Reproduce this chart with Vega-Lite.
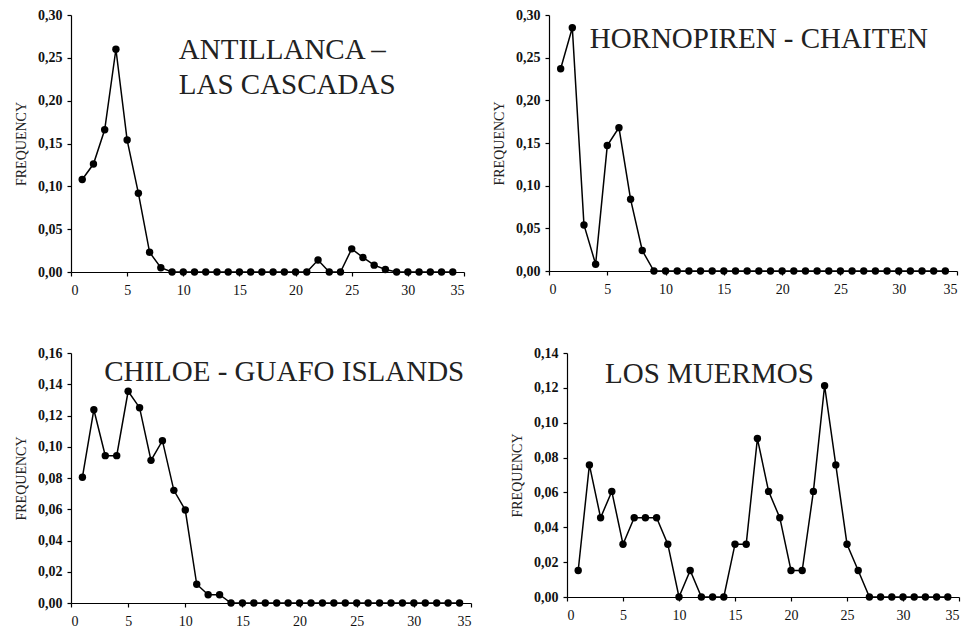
{
  "$schema": "https://vega.github.io/schema/vega-lite/v6.json",
  "padding": {"left": 14, "top": 8, "right": 2, "bottom": 4},
  "background": "white",
  "config": {
    "font": "Liberation Serif",
    "view": {"stroke": null},
    "text": {"font": "Liberation Serif"},
    "axis": {
      "grid": false,
      "domainColor": "black",
      "tickColor": "black",
      "labelColor": "#111",
      "titleColor": "#222",
      "labelFont": "Liberation Serif",
      "titleFont": "Liberation Serif",
      "labelFontSize": 14,
      "titleFontSize": 14,
      "titleFontWeight": "normal",
      "tickSize": 4,
      "domainWidth": 1.2,
      "tickWidth": 1.2,
      "labelOverlap": false
    },
    "axisX": {"labelPadding": 7, "labelFontSize": 14},
    "axisY": {"labelPadding": 5, "labelFontWeight": "bold", "titlePadding": 9}
  },
  "datasets": {
    "antillanca": [
      {"x": 1, "f": 0.108}, {"x": 2, "f": 0.126}, {"x": 3, "f": 0.166}, {"x": 4, "f": 0.26}, {"x": 5, "f": 0.154},
      {"x": 6, "f": 0.092}, {"x": 7, "f": 0.023}, {"x": 8, "f": 0.005}, {"x": 9, "f": 0}, {"x": 10, "f": 0},
      {"x": 11, "f": 0}, {"x": 12, "f": 0}, {"x": 13, "f": 0}, {"x": 14, "f": 0}, {"x": 15, "f": 0},
      {"x": 16, "f": 0}, {"x": 17, "f": 0}, {"x": 18, "f": 0}, {"x": 19, "f": 0}, {"x": 20, "f": 0},
      {"x": 21, "f": 0}, {"x": 22, "f": 0.014}, {"x": 23, "f": 0}, {"x": 24, "f": 0}, {"x": 25, "f": 0.027},
      {"x": 26, "f": 0.017}, {"x": 27, "f": 0.008}, {"x": 28, "f": 0.003}, {"x": 29, "f": 0}, {"x": 30, "f": 0},
      {"x": 31, "f": 0}, {"x": 32, "f": 0}, {"x": 33, "f": 0}, {"x": 34, "f": 0}
    ],
    "hornopiren": [
      {"x": 1, "f": 0.237}, {"x": 2, "f": 0.285}, {"x": 3, "f": 0.054}, {"x": 4, "f": 0.008}, {"x": 5, "f": 0.147},
      {"x": 6, "f": 0.168}, {"x": 7, "f": 0.084}, {"x": 8, "f": 0.024}, {"x": 9, "f": 0}, {"x": 10, "f": 0},
      {"x": 11, "f": 0}, {"x": 12, "f": 0}, {"x": 13, "f": 0}, {"x": 14, "f": 0}, {"x": 15, "f": 0},
      {"x": 16, "f": 0}, {"x": 17, "f": 0}, {"x": 18, "f": 0}, {"x": 19, "f": 0}, {"x": 20, "f": 0},
      {"x": 21, "f": 0}, {"x": 22, "f": 0}, {"x": 23, "f": 0}, {"x": 24, "f": 0}, {"x": 25, "f": 0},
      {"x": 26, "f": 0}, {"x": 27, "f": 0}, {"x": 28, "f": 0}, {"x": 29, "f": 0}, {"x": 30, "f": 0},
      {"x": 31, "f": 0}, {"x": 32, "f": 0}, {"x": 33, "f": 0}, {"x": 34, "f": 0}
    ],
    "chiloe": [
      {"x": 1, "f": 0.0805}, {"x": 2, "f": 0.1237}, {"x": 3, "f": 0.0943}, {"x": 4, "f": 0.0943}, {"x": 5, "f": 0.1355},
      {"x": 6, "f": 0.125}, {"x": 7, "f": 0.0913}, {"x": 8, "f": 0.1039}, {"x": 9, "f": 0.0721}, {"x": 10, "f": 0.0595},
      {"x": 11, "f": 0.012}, {"x": 12, "f": 0.0053}, {"x": 13, "f": 0.0053}, {"x": 14, "f": 0}, {"x": 15, "f": 0},
      {"x": 16, "f": 0}, {"x": 17, "f": 0}, {"x": 18, "f": 0}, {"x": 19, "f": 0}, {"x": 20, "f": 0},
      {"x": 21, "f": 0}, {"x": 22, "f": 0}, {"x": 23, "f": 0}, {"x": 24, "f": 0}, {"x": 25, "f": 0},
      {"x": 26, "f": 0}, {"x": 27, "f": 0}, {"x": 28, "f": 0}, {"x": 29, "f": 0}, {"x": 30, "f": 0},
      {"x": 31, "f": 0}, {"x": 32, "f": 0}, {"x": 33, "f": 0}, {"x": 34, "f": 0}
    ],
    "muermos": [
      {"x": 1, "f": 0.0152}, {"x": 2, "f": 0.0758}, {"x": 3, "f": 0.0455}, {"x": 4, "f": 0.0606}, {"x": 5, "f": 0.0303},
      {"x": 6, "f": 0.0455}, {"x": 7, "f": 0.0455}, {"x": 8, "f": 0.0455}, {"x": 9, "f": 0.0303}, {"x": 10, "f": 0},
      {"x": 11, "f": 0.0152}, {"x": 12, "f": 0}, {"x": 13, "f": 0}, {"x": 14, "f": 0}, {"x": 15, "f": 0.0303},
      {"x": 16, "f": 0.0303}, {"x": 17, "f": 0.0909}, {"x": 18, "f": 0.0606}, {"x": 19, "f": 0.0455}, {"x": 20, "f": 0.0152},
      {"x": 21, "f": 0.0152}, {"x": 22, "f": 0.0606}, {"x": 23, "f": 0.1212}, {"x": 24, "f": 0.0758}, {"x": 25, "f": 0.0303},
      {"x": 26, "f": 0.0152}, {"x": 27, "f": 0}, {"x": 28, "f": 0}, {"x": 29, "f": 0}, {"x": 30, "f": 0},
      {"x": 31, "f": 0}, {"x": 32, "f": 0}, {"x": 33, "f": 0}, {"x": 34, "f": 0}
    ]
  },
  "vconcat": [
    {
      "hconcat": [
        {
          "width": 393, "height": 257,
          "layer": [
            {
              "data": {"name": "antillanca"},
              "mark": {"type": "line", "color": "black", "strokeWidth": 1.5},
              "encoding": {
                "x": {"field": "x", "type": "quantitative", "scale": {"domain": [0, 35], "nice": false}, "axis": {"values": [0, 5, 10, 15, 20, 25, 30, 35], "title": null}},
                "y": {"field": "f", "type": "quantitative", "scale": {"domain": [0, 0.3], "nice": false}, "axis": {"values": [0, 0.05, 0.1, 0.15, 0.2, 0.25, 0.3], "title": "FREQUENCY", "labelExpr": "replace(format(datum.value, '.2f'), '.', ',')"}}
              }
            },
            {
              "data": {"name": "antillanca"},
              "mark": {"type": "point", "filled": true, "color": "black", "opacity": 1, "size": 55},
              "encoding": {
                "x": {"field": "x", "type": "quantitative", "scale": {"domain": [0, 35], "nice": false}, "axis": {"values": [0, 5, 10, 15, 20, 25, 30, 35], "title": null}},
                "y": {"field": "f", "type": "quantitative", "scale": {"domain": [0, 0.3], "nice": false}, "axis": {"values": [0, 0.05, 0.1, 0.15, 0.2, 0.25, 0.3], "title": "FREQUENCY", "labelExpr": "replace(format(datum.value, '.2f'), '.', ',')"}}
              }
            },
            {
              "data": {"values": [{"label": "ANTILLANCA –"}]},
              "mark": {"type": "text", "align": "left", "baseline": "alphabetic", "fontSize": 29, "lineHeight": 35, "color": "#222", "text": ["ANTILLANCA –", "LAS CASCADAS"]},
              "encoding": {
                "x": {"datum": 9.6, "type": "quantitative", "scale": {"domain": [0, 35], "nice": false}, "axis": {"values": [0, 5, 10, 15, 20, 25, 30, 35], "title": null}},
                "y": {"datum": 0.249, "type": "quantitative", "scale": {"domain": [0, 0.3], "nice": false}, "axis": {"values": [0, 0.05, 0.1, 0.15, 0.2, 0.25, 0.3], "title": "FREQUENCY", "labelExpr": "replace(format(datum.value, '.2f'), '.', ',')"}}
              }
            }
          ]
        },
        {
          "width": 408, "height": 256,
          "layer": [
            {
              "data": {"name": "hornopiren"},
              "mark": {"type": "line", "color": "black", "strokeWidth": 1.5},
              "encoding": {
                "x": {"field": "x", "type": "quantitative", "scale": {"domain": [0, 35], "nice": false}, "axis": {"values": [0, 5, 10, 15, 20, 25, 30, 35], "title": null}},
                "y": {"field": "f", "type": "quantitative", "scale": {"domain": [0, 0.3], "nice": false}, "axis": {"values": [0, 0.05, 0.1, 0.15, 0.2, 0.25, 0.3], "title": "FREQUENCY", "labelExpr": "replace(format(datum.value, '.2f'), '.', ',')"}}
              }
            },
            {
              "data": {"name": "hornopiren"},
              "mark": {"type": "point", "filled": true, "color": "black", "opacity": 1, "size": 55},
              "encoding": {
                "x": {"field": "x", "type": "quantitative", "scale": {"domain": [0, 35], "nice": false}, "axis": {"values": [0, 5, 10, 15, 20, 25, 30, 35], "title": null}},
                "y": {"field": "f", "type": "quantitative", "scale": {"domain": [0, 0.3], "nice": false}, "axis": {"values": [0, 0.05, 0.1, 0.15, 0.2, 0.25, 0.3], "title": "FREQUENCY", "labelExpr": "replace(format(datum.value, '.2f'), '.', ',')"}}
              }
            },
            {
              "data": {"values": [{"label": "HORNOPIREN - CHAITEN"}]},
              "mark": {"type": "text", "align": "left", "baseline": "alphabetic", "fontSize": 29, "color": "#222"},
              "encoding": {
                "text": {"field": "label"},
                "x": {"datum": 3.49, "type": "quantitative", "scale": {"domain": [0, 35], "nice": false}, "axis": {"values": [0, 5, 10, 15, 20, 25, 30, 35], "title": null}},
                "y": {"datum": 0.261, "type": "quantitative", "scale": {"domain": [0, 0.3], "nice": false}, "axis": {"values": [0, 0.05, 0.1, 0.15, 0.2, 0.25, 0.3], "title": "FREQUENCY", "labelExpr": "replace(format(datum.value, '.2f'), '.', ',')"}}
              }
            }
          ]
        }
      ],
      "spacing": 27
    },
    {
      "hconcat": [
        {
          "width": 400, "height": 250,
          "layer": [
            {
              "data": {"name": "chiloe"},
              "mark": {"type": "line", "color": "black", "strokeWidth": 1.5},
              "encoding": {
                "x": {"field": "x", "type": "quantitative", "scale": {"domain": [0, 35], "nice": false}, "axis": {"values": [0, 5, 10, 15, 20, 25, 30, 35], "title": null}},
                "y": {"field": "f", "type": "quantitative", "scale": {"domain": [0, 0.16], "nice": false}, "axis": {"values": [0, 0.02, 0.04, 0.06, 0.08, 0.1, 0.12, 0.14, 0.16], "title": "FREQUENCY", "labelExpr": "replace(format(datum.value, '.2f'), '.', ',')"}}
              }
            },
            {
              "data": {"name": "chiloe"},
              "mark": {"type": "point", "filled": true, "color": "black", "opacity": 1, "size": 55},
              "encoding": {
                "x": {"field": "x", "type": "quantitative", "scale": {"domain": [0, 35], "nice": false}, "axis": {"values": [0, 5, 10, 15, 20, 25, 30, 35], "title": null}},
                "y": {"field": "f", "type": "quantitative", "scale": {"domain": [0, 0.16], "nice": false}, "axis": {"values": [0, 0.02, 0.04, 0.06, 0.08, 0.1, 0.12, 0.14, 0.16], "title": "FREQUENCY", "labelExpr": "replace(format(datum.value, '.2f'), '.', ',')"}}
              }
            },
            {
              "data": {"values": [{"label": "CHILOE - GUAFO ISLANDS"}]},
              "mark": {"type": "text", "align": "left", "baseline": "alphabetic", "fontSize": 29, "color": "#222"},
              "encoding": {
                "text": {"field": "label"},
                "x": {"datum": 2.9, "type": "quantitative", "scale": {"domain": [0, 35], "nice": false}, "axis": {"values": [0, 5, 10, 15, 20, 25, 30, 35], "title": null}},
                "y": {"datum": 0.142, "type": "quantitative", "scale": {"domain": [0, 0.16], "nice": false}, "axis": {"values": [0, 0.02, 0.04, 0.06, 0.08, 0.1, 0.12, 0.14, 0.16], "title": "FREQUENCY", "labelExpr": "replace(format(datum.value, '.2f'), '.', ',')"}}
              }
            }
          ]
        },
        {
          "width": 392, "height": 244,
          "layer": [
            {
              "data": {"name": "muermos"},
              "mark": {"type": "line", "color": "black", "strokeWidth": 1.5},
              "encoding": {
                "x": {"field": "x", "type": "quantitative", "scale": {"domain": [0, 35], "nice": false}, "axis": {"values": [0, 5, 10, 15, 20, 25, 30, 35], "title": null}},
                "y": {"field": "f", "type": "quantitative", "scale": {"domain": [0, 0.14], "nice": false}, "axis": {"values": [0, 0.02, 0.04, 0.06, 0.08, 0.1, 0.12, 0.14], "title": "FREQUENCY", "labelExpr": "replace(format(datum.value, '.2f'), '.', ',')"}}
              }
            },
            {
              "data": {"name": "muermos"},
              "mark": {"type": "point", "filled": true, "color": "black", "opacity": 1, "size": 55},
              "encoding": {
                "x": {"field": "x", "type": "quantitative", "scale": {"domain": [0, 35], "nice": false}, "axis": {"values": [0, 5, 10, 15, 20, 25, 30, 35], "title": null}},
                "y": {"field": "f", "type": "quantitative", "scale": {"domain": [0, 0.14], "nice": false}, "axis": {"values": [0, 0.02, 0.04, 0.06, 0.08, 0.1, 0.12, 0.14], "title": "FREQUENCY", "labelExpr": "replace(format(datum.value, '.2f'), '.', ',')"}}
              }
            },
            {
              "data": {"values": [{"label": "LOS MUERMOS"}]},
              "mark": {"type": "text", "align": "left", "baseline": "alphabetic", "fontSize": 29, "color": "#222"},
              "encoding": {
                "text": {"field": "label"},
                "x": {"datum": 3.4, "type": "quantitative", "scale": {"domain": [0, 35], "nice": false}, "axis": {"values": [0, 5, 10, 15, 20, 25, 30, 35], "title": null}},
                "y": {"datum": 0.123, "type": "quantitative", "scale": {"domain": [0, 0.14], "nice": false}, "axis": {"values": [0, 0.02, 0.04, 0.06, 0.08, 0.1, 0.12, 0.14], "title": "FREQUENCY", "labelExpr": "replace(format(datum.value, '.2f'), '.', ',')"}}
              }
            }
          ]
        }
      ],
      "spacing": 38
    }
  ],
  "spacing": 49
}
